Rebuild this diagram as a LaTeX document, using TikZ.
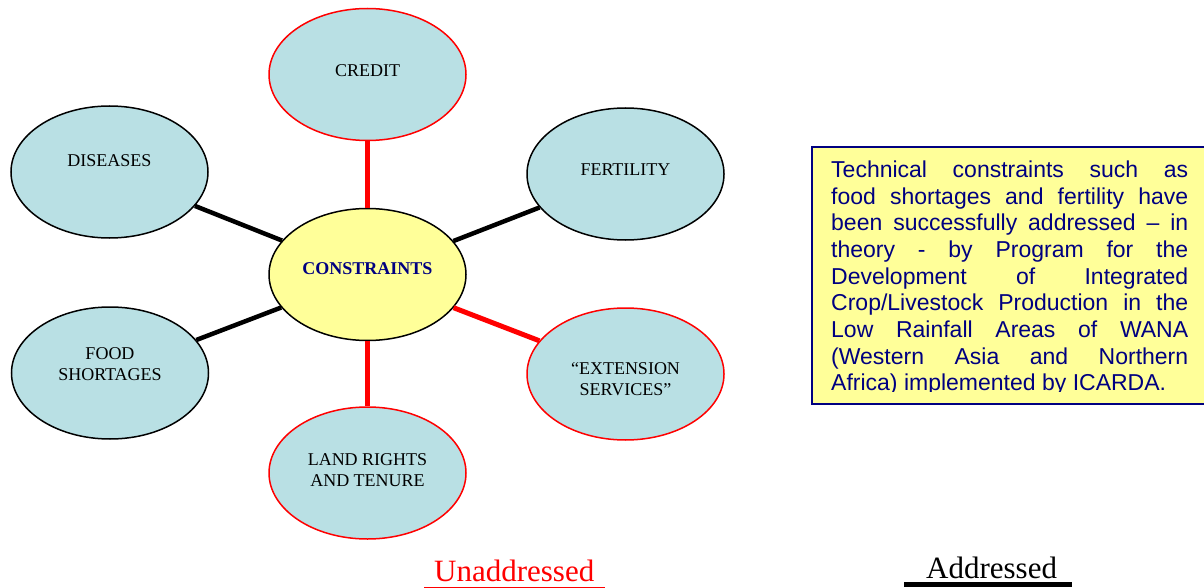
\documentclass[tikz,border=0pt]{standalone}
\usepackage{fontspec}
\setmainfont{Liberation Serif}
\newfontfamily\notefont{Liberation Sans}
\usetikzlibrary{shapes.geometric}
\definecolor{leafblue}{RGB}{185,224,228}
\definecolor{hubyellow}{RGB}{255,255,153}
\definecolor{inkblue}{RGB}{0,0,128}

\begin{document}
\begin{tikzpicture}[x=1pt, y=-1pt,
    leaf/.style = {draw, ellipse, fill=leafblue, line width=1.5pt, minimum width=197pt, minimum height=132pt, inner sep=0pt, align=center, font=\fontsize{18}{21.5}\selectfont},
    hub/.style = {leaf, fill=hubyellow, text=inkblue, font=\fontsize{18}{21.5}\selectfont\bfseries},
    open/.style = {draw=red},
    unaddr/.style = {draw=red, line width=5pt},
    addr/.style = {draw=black, line width=4.5pt},
    legend/.style = {font=\fontsize{31}{36}\selectfont, inner sep=0pt, anchor=base west}]
    \useasboundingbox (0,0) rectangle (1204,588);

        \node[hub, text depth=12pt] (hub) at (367.5,274.5) {CONSTRAINTS};
        \node[leaf, open, text depth=8pt] (credit) at (367.5,74.5) {CREDIT};
        \node[leaf, text depth=22pt] (diseases) at (109.5,172) {DISEASES};
        \node[leaf, text depth=8pt] (fertility) at (625.5,174) {FERTILITY};
        \node[leaf, text depth=18pt] (food) at (110,373) {FOOD\\SHORTAGES};
        \node[leaf, open, text height=43.5pt, text depth=0pt] (extension) at (625.5,374) {“EXTENSION\\SERVICES”};
        \node[leaf, open, text depth=6pt] (land) at (367.5,473) {LAND RIGHTS\\AND TENURE};

        \path[unaddr] (hub) edge (credit);
        \path[addr] (hub) edge (diseases);
        \path[addr] (hub) edge (fertility);
        \path[addr] (hub) edge (food);
        \path[unaddr] (hub) edge (extension);
        \path[unaddr] (hub) edge (land);

        % note box, runs past the right edge
        \node[draw=inkblue, fill=hubyellow, line width=2pt, minimum width=400pt, minimum height=257pt, anchor=north west, inner sep=0pt] (note) at (811,146) {};
        \begin{scope}
            \clip (813,148) rectangle (1204,391.5);
            \node[anchor=north west, text width=357pt, align=justify, inner sep=0pt, text=inkblue, font=\notefont\fontsize{23}{26.7}\selectfont] (notetext) at (831,160.5)
                {\tolerance=10000\hyphenpenalty=10000 Technical constraints such as\linebreak food shortages and fertility have\linebreak been successfully addressed – in\linebreak theory - by Program for the\linebreak Development of Integrated\linebreak Crop/Livestock Production in the\linebreak Low Rainfall Areas of WANA\linebreak (Western Asia and Northern\linebreak Africa) implemented by ICARDA.};
        \end{scope}

        \node[legend, text=red] (unaddressed) at (434,581) {Unaddressed};
        \node[legend] (addressed) at (926,578) {Addressed};
        \draw[red, line width=1pt] ([xshift=-10pt, yshift=-6pt]unaddressed.base west) -- ([xshift=10pt, yshift=-6pt]unaddressed.base east);
        \draw[black, line width=5pt] ([xshift=-22pt, yshift=-6.5pt]addressed.base west) -- ([xshift=15pt, yshift=-6.5pt]addressed.base east);

    \end{tikzpicture}
\end{document}
